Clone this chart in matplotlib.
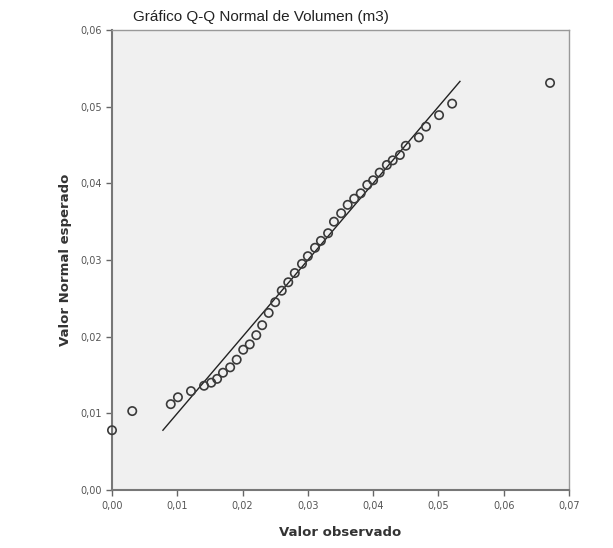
import matplotlib.pyplot as plt
from matplotlib.ticker import FuncFormatter

# Valores (observado, normal esperado)
observado = [0.0000, 0.0031, 0.0090, 0.0101, 0.0121, 0.0141, 0.0152, 0.0161,
             0.0170, 0.0181, 0.0191, 0.0201, 0.0211, 0.0221, 0.0230, 0.0240,
             0.0250, 0.0260, 0.0270, 0.0280, 0.0291, 0.0300, 0.0311, 0.0320,
             0.0331, 0.0340, 0.0351, 0.0361, 0.0371, 0.0381, 0.0391, 0.0400,
             0.0410, 0.0421, 0.0430, 0.0441, 0.0450, 0.0470, 0.0481, 0.0501,
             0.0521, 0.0671]
esperado = [0.0078, 0.0103, 0.0112, 0.0121, 0.0129, 0.0136, 0.0140, 0.0145,
            0.0153, 0.0160, 0.0170, 0.0183, 0.0190, 0.0202, 0.0215, 0.0231,
            0.0245, 0.0260, 0.0271, 0.0283, 0.0295, 0.0305, 0.0316, 0.0325,
            0.0335, 0.0350, 0.0361, 0.0372, 0.0380, 0.0387, 0.0398, 0.0404,
            0.0414, 0.0424, 0.0430, 0.0437, 0.0449, 0.0460, 0.0474, 0.0489,
            0.0504, 0.0531]
linea = [0.0078, 0.0533]
ticks_x = [0.00, 0.01, 0.02, 0.03, 0.04, 0.05, 0.06, 0.07]
ticks_y = [0.00, 0.01, 0.02, 0.03, 0.04, 0.05, 0.06]

fig = plt.figure(figsize=(6.13, 5.48), dpi=100)
ax = fig.add_axes([0.1827, 0.1058, 0.7455, 0.8394])
ax.set_facecolor('#f0f0f0')

ax.plot(linea, linea, color='#222222', lw=1.0, zorder=2)
ax.scatter(observado, esperado, s=36, facecolors='none', edgecolors='#3a3a3a',
           linewidths=1.2, zorder=3, clip_on=False)

ax.set_xlim(0, 0.07)
ax.set_ylim(0, 0.06)
ax.set_xticks(ticks_x)
ax.set_yticks(ticks_y)
coma = FuncFormatter(lambda v, p: f'{v:.2f}'.replace('.', ','))
ax.xaxis.set_major_formatter(coma)
ax.yaxis.set_major_formatter(coma)
ax.tick_params(direction='out', length=4, width=1, colors='#666666',
               labelsize=7, labelcolor='#555555')
ax.tick_params(axis='x', pad=4)

for s in ax.spines.values():
    s.set_color('#999999')
    s.set_linewidth(1.0)
ax.spines['left'].set_color('#777777')
ax.spines['bottom'].set_color('#777777')
ax.spines['left'].set_linewidth(1.5)
ax.spines['bottom'].set_linewidth(1.5)

fig.text(0.426, 0.969, 'Gráfico Q-Q Normal de Volumen (m3)', ha='center',
         va='center', fontsize=11, family='Liberation Sans', color='#222222')
ax.set_xlabel('Valor observado', fontsize=9.5, fontweight='bold',
              color='#333333', labelpad=11)
ax.set_ylabel('Valor Normal esperado', fontsize=9.5, fontweight='bold',
              color='#333333', labelpad=6)

fig.savefig('out.png', dpi=100)
